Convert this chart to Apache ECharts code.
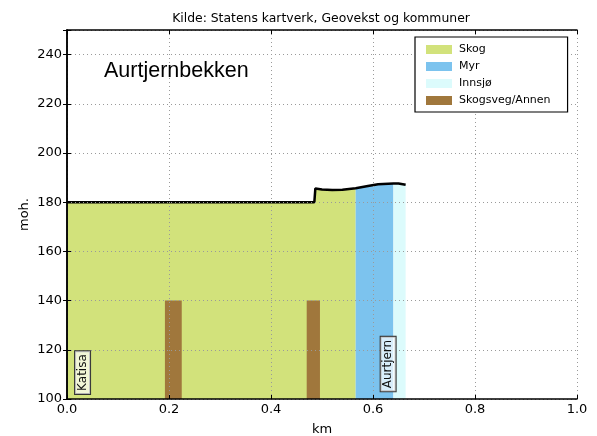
<!DOCTYPE html>
<html>
<head>
<meta charset="utf-8">
<script src="https://cdn.jsdelivr.net/npm/echarts@6/dist/echarts.min.js"></script>
<style>
  html, body { margin: 0; padding: 0; background: #fff; }
  #chart { width: 597px; height: 436px; }
</style>
</head>
<body>
<div id="chart"></div>
<script>
// Terrain profile along the stream (distance in km, height in m.o.h.)
const profileKm  = [0, 0.485, 0.487, 0.50, 0.52, 0.54, 0.566, 0.59, 0.61, 0.64, 0.65, 0.664];
const profileMoh = [180, 180, 185.6, 185.2, 185.0, 185.1, 185.7, 186.6, 187.3, 187.6, 187.6, 187.1];

// Land cover classes along the profile
const coverNames  = ['Skog', 'Myr', 'Innsjø'];
const coverStart  = [0, 0.566, 0.64];
const coverEnd    = [0.566, 0.64, 0.664];
const coverColors = ['#d2e27b', '#7cc3ee', '#dcfbfc'];

// Road crossings (Skogsveg/Annen)
const roadName   = 'Skogsveg/Annen';
const roadStart  = [0.192, 0.470];
const roadEnd    = [0.225, 0.496];
const roadTop    = [140, 140];
const roadColor  = '#a0773c';

// Place names written along the bottom of the profile
const placeNames = ['Katisa', 'Aurtjern'];
const placeKm    = [0.0305, 0.6297];
const placeMoh   = [110.75, 114.2];

const xTicks = [0, 0.2, 0.4, 0.6, 0.8, 1.0];
const yTicks = [100, 120, 140, 160, 180, 200, 220, 240];

const Y_MIN = 100, Y_MAX = 250;

const chart = echarts.init(document.getElementById('chart'), null, { renderer: 'canvas' });

const profilePoints = profileKm.map((k, i) => [k, profileMoh[i]]);

function sliceProfile(a, b) {
  return profilePoints.filter(p => p[0] >= a - 1e-9 && p[0] <= b + 1e-9);
}

const coverSeries = coverNames.map((name, i) => ({
  name: name,
  type: 'line',
  data: sliceProfile(coverStart[i], coverEnd[i]),
  symbol: 'none',
  color: coverColors[i],
  itemStyle: { color: coverColors[i] },
  lineStyle: { width: 0, opacity: 0 },
  areaStyle: { color: coverColors[i], opacity: 1, origin: 'start' },
  z: 1,
  silent: true,
  animation: false
}));

const roadSeries = {
  name: roadName,
  type: 'custom',
  color: roadColor,
  itemStyle: { color: roadColor },
  data: roadStart.map((s, i) => [s, roadEnd[i], roadTop[i]]),
  renderItem: function (params, api) {
    const p1 = api.coord([api.value(0), api.value(2)]);
    const p2 = api.coord([api.value(1), Y_MIN]);
    return {
      type: 'rect',
      shape: { x: p1[0], y: p1[1], width: p2[0] - p1[0], height: p2[1] - p1[1] },
      style: { fill: roadColor }
    };
  },
  encode: { x: [0, 1], y: 2 },
  z: 2,
  animation: false
};

const placeLabelStyle = {
  show: true,
  rotate: 90,
  fontFamily: 'DejaVu Sans',
  fontSize: 12,
  color: '#111',
  backgroundColor: 'rgba(255,255,255,0.7)',
  borderColor: '#333',
  borderWidth: 1,
  padding: [2, 3, 1, 3],
  position: 'inside',
  align: 'center',
  verticalAlign: 'middle'
};

const placeSeries = {
  name: 'places',
  type: 'scatter',
  data: [],
  symbolSize: 0,
  silent: true,
  animation: false,
  markPoint: {
    symbol: 'rect',
    symbolSize: 0,
    z: 10,
    silent: true,
    animation: false,
    data: placeNames.map((n, i) => ({
      coord: [placeKm[i], placeMoh[i]],
      value: n,
      label: Object.assign({}, placeLabelStyle, { formatter: n })
    }))
  }
};

const profileSeries = {
  name: 'profil',
  type: 'line',
  data: profilePoints,
  symbol: 'none',
  lineStyle: { color: '#000', width: 2.5 },
  z: 4,
  silent: true,
  animation: false
};

const tickFont = { fontFamily: 'DejaVu Sans', fontSize: 13, color: '#000' };
const gridLine = { show: true, lineStyle: { color: '#9a9a9a', type: [1, 3], width: 1 } };
const edgeLine = { show: true, lineStyle: { color: '#000', width: 1.5 } };

const option = {
  backgroundColor: '#ffffff',
  animation: false,
  title: [
    {
      text: 'Kilde: Statens kartverk, Geovekst og kommuner',
      left: 316, top: 8, textAlign: 'center',
      textStyle: { fontFamily: 'DejaVu Sans', fontSize: 12.4, fontWeight: 'normal', color: '#000' }
    },
    {
      text: 'Aurtjernbekken',
      left: 99, top: 55,
      textStyle: { fontFamily: 'Liberation Sans', fontSize: 21.5, fontWeight: 'normal', color: '#000' }
    }
  ],
  legend: {
    data: coverNames.concat([roadName]),
    orient: 'vertical',
    left: 415, top: 37,
    icon: 'rect',
    itemWidth: 26, itemHeight: 9,
    itemGap: 6,
    padding: [7, 17, 6, 11],
    backgroundColor: '#fff',
    borderColor: '#000',
    borderWidth: 1.2,
    borderRadius: 0,
    selectedMode: false,
    textStyle: { fontFamily: 'DejaVu Sans', fontSize: 11, color: '#000', padding: [0, 0, 0, 2] },
    z: 20
  },
  grid: { left: 67, right: 20, top: 30, bottom: 37, containLabel: false, outerBoundsMode: 'none' },
  xAxis: [
    {
      type: 'value', min: 0, max: 1, interval: 0.2, position: 'bottom', z: 6,
      name: 'km', nameLocation: 'middle', nameGap: 24, nameMoveOverlap: false,
      nameTextStyle: { fontFamily: 'DejaVu Sans', fontSize: 13, color: '#000' },
      axisLine: edgeLine,
      axisTick: { show: true, inside: true, length: 4, lineStyle: { color: '#000' } },
      axisLabel: Object.assign({ margin: 4, formatter: v => v.toFixed(1) }, tickFont),
      splitLine: gridLine
    },
    {
      type: 'value', min: 0, max: 1, interval: 0.2, position: 'top', z: 6,
      axisLine: edgeLine,
      axisTick: { show: true, inside: true, length: 4, lineStyle: { color: '#000' } },
      axisLabel: { show: false },
      splitLine: { show: false }
    }
  ],
  yAxis: [
    {
      type: 'value', min: Y_MIN, max: Y_MAX, interval: 20, position: 'left', z: 6,
      name: 'moh.', nameLocation: 'middle', nameGap: 36, nameRotate: 90, nameMoveOverlap: false,
      nameTextStyle: { fontFamily: 'DejaVu Sans', fontSize: 13, color: '#000' },
      axisLine: edgeLine,
      axisTick: { show: true, inside: true, length: 4, lineStyle: { color: '#000' } },
      axisLabel: Object.assign({ margin: 5, formatter: v => (yTicks.indexOf(v) >= 0 ? String(v) : '') }, tickFont),
      splitLine: gridLine
    },
    {
      type: 'value', min: Y_MIN, max: Y_MAX, interval: 20, position: 'right', z: 6,
      axisLine: edgeLine,
      axisTick: { show: true, inside: true, length: 4, lineStyle: { color: '#000' } },
      axisLabel: { show: false },
      splitLine: { show: false }
    }
  ],
  series: coverSeries.concat([roadSeries, profileSeries, placeSeries])
};

chart.setOption(option);
</script>
</body>
</html>
